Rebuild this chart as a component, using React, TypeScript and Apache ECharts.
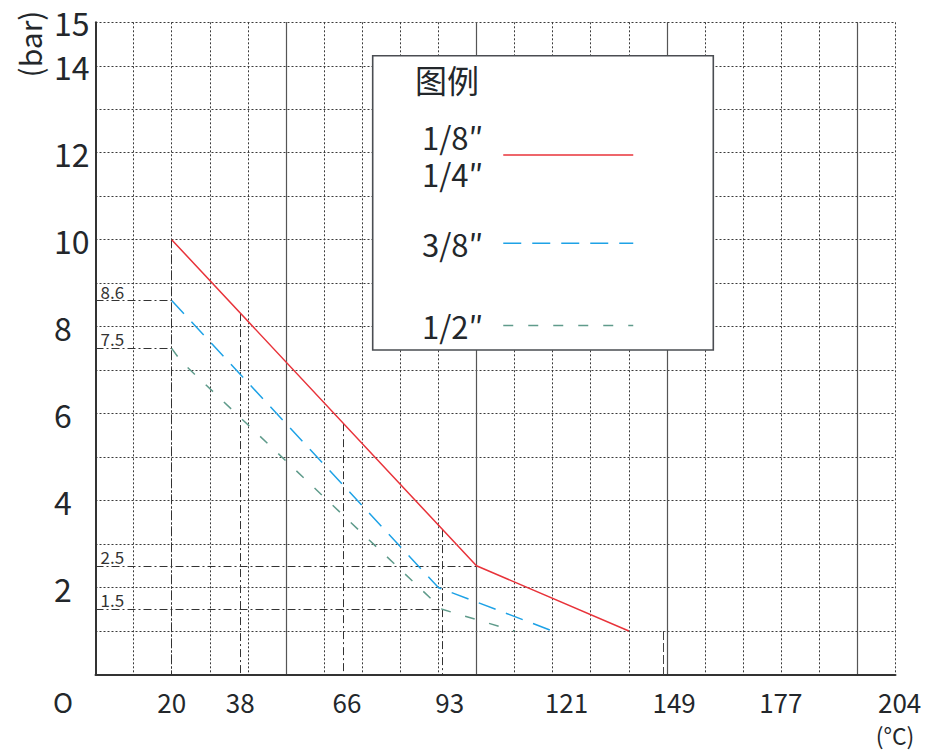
import React, { useEffect, useRef } from 'react';
import * as echarts from 'echarts';

// ---- data ----
const xTickLabels = [20, 38, 66, 93, 121, 149, 177, 204]; // °C
const yTickLabels = [2, 4, 6, 8, 10, 12, 14, 15]; // bar
const seriesNames = ['1/8″\n1/4″', '3/8″', '1/2″'];
const redValues = [[20, 10], [100, 2.5], [140, 1]];
const blueValues = [[20, 8.6], [90, 2], [120, 1]];
const greenValues = [[20, 7.5], [22.5, 7.2], [91, 1.5], [110, 1]];
const guideTemps = [20, 38, 65, 91]; // vertical guides dropped from the 1/8"-1/4" curve
const limitTemp = 149;
const limitPressure = 1;

const FONT = '"Noto Sans CJK SC", "Noto Sans", sans-serif';
const TEXT = '#23272b';
const RED = '#e8333a';
const BLUE = '#1ea2e6';
const GREEN = '#5f9b8b';
const DASH_DOT = [8, 3, 2, 3];

function interp(series: number[][], t: number): number {
  for (let i = 0; i < series.length - 1; i++) {
    const [x0, y0] = series[i];
    const [x1, y1] = series[i + 1];
    if (t >= x0 && t <= x1) return y0 + ((y1 - y0) * (t - x0)) / (x1 - x0);
  }
  return series[0][1];
}

// label nudges (the reference places the right-hand labels slightly right of their values)
const xLabelNudge: Record<number, number> = { 121: 10, 149: 11, 177: 11, 204: 27 };

export default function App() {
  const ref = useRef<HTMLDivElement>(null);
  useEffect(() => {
    document.body.style.margin = '0';
    const chart = echarts.init(ref.current!, null, { renderer: 'svg' });

    const rich: Record<string, any> = {};
    xTickLabels.forEach((v) => {
      rich['n' + v] = {
        fontSize: 26,
        fontFamily: FONT,
        color: TEXT,
        padding: [0, 0, 0, 2 * (xLabelNudge[v] || 0)],
      };
    });

    const levelLines = [
      { level: blueValues[0][1], end: blueValues[0][0] },
      { level: greenValues[0][1], end: greenValues[0][0] },
      { level: redValues[1][1], end: redValues[1][0] },
      { level: greenValues[2][1], end: greenValues[2][0] },
    ];

    const option: any = {
      animation: false,
      backgroundColor: '#fff',
      textStyle: { fontFamily: FONT },
      grid: { left: 95.5, right: 31.5, top: 22.3, bottom: 76.5, containLabel: false },
      xAxis: [
        {
          type: 'value',
          min: 0,
          max: 210,
          interval: 10,
          axisLine: { show: true, onZero: false, lineStyle: { color: '#333', width: 2 } },
          axisTick: { show: false },
          axisLabel: {
            customValues: xTickLabels,
            margin: 14,
            fontSize: 26,
            color: TEXT,
            fontFamily: FONT,
            formatter: (v: number) => `{n${v}|${v}}`,
            rich,
          },
          splitLine: {
            show: true,
            showMinLine: false,
            showMaxLine: true,
            lineStyle: { color: '#3a3a3a', type: [2, 2], width: 1 },
          },
        },
        {
          type: 'value',
          min: 0,
          max: 210,
          interval: 50,
          position: 'top',
          axisLine: { show: false },
          axisTick: { show: false },
          axisLabel: { show: false },
          splitLine: {
            show: true,
            showMinLine: false,
            showMaxLine: false,
            lineStyle: { color: '#555', type: 'solid', width: 1.2 },
          },
        },
      ],
      yAxis: {
        type: 'value',
        min: 0,
        max: 15,
        interval: 1,
        axisLine: { show: true, onZero: false, lineStyle: { color: '#333', width: 2 } },
        axisTick: { show: false },
        axisLabel: {
          customValues: yTickLabels,
          align: 'left',
          margin: 41.5,
          fontSize: 32,
          lineHeight: 32,
          color: TEXT,
          fontFamily: FONT,
        },
        splitLine: {
          show: true,
          showMinLine: false,
          showMaxLine: true,
          lineStyle: { color: '#3a3a3a', type: [2, 2], width: 1 },
        },
      },
      legend: seriesNames.map((name, i) => ({
        data: [name],
        right: 293,
        top: [118, 224.8, 307][i],
        orient: 'vertical',
        align: 'right',
        itemWidth: 130,
        itemHeight: [74, 37, 37][i],
        padding: 0,
        selectedMode: false,
        z: 20,
        textStyle: {
          fontSize: 31,
          lineHeight: 37,
          color: TEXT,
          fontFamily: FONT,
          padding: [0, 15, 0, 0],
        },
        itemStyle: { opacity: 0, borderWidth: 0 },
        lineStyle: { width: 1.5 },
      })),
      series: [
        {
          name: seriesNames[0],
          type: 'line',
          data: redValues,
          symbol: 'none',
          z: 5,
          lineStyle: { color: RED, width: 1.5 },
          itemStyle: { color: RED },
          markLine: {
            silent: true,
            symbol: ['none', 'none'],
            label: { show: false },
            lineStyle: { color: '#333', type: DASH_DOT, width: 1 },
            data: [
              ...guideTemps.map((t) => [
                { coord: [t, interp(redValues, t)] },
                { coord: [t, 0] },
              ]),
              [
                { coord: [limitTemp, limitPressure], lineStyle: { type: [9, 3], color: '#444' } },
                { coord: [limitTemp, 0] },
              ],
            ],
          },
        },
        {
          name: seriesNames[1],
          type: 'line',
          data: blueValues,
          symbol: 'none',
          z: 5,
          lineStyle: { color: BLUE, width: 1.5, type: [18, 11] },
          itemStyle: { color: BLUE },
          markLine: {
            silent: true,
            symbol: ['none', 'none'],
            lineStyle: { color: '#333', type: DASH_DOT, width: 1 },
            label: {
              show: true,
              position: 'insideStartTop',
              formatter: '{b}',
              fontSize: 17,
              color: '#333',
              fontFamily: FONT,
              distance: [5, 1],
            },
            data: levelLines.map((l) => [
              { name: String(l.level), coord: [0, l.level] },
              { coord: [l.end, l.level] },
            ]),
          },
        },
        {
          name: seriesNames[2],
          type: 'line',
          data: greenValues,
          symbol: 'none',
          z: 5,
          lineStyle: { color: GREEN, width: 1.5, type: [10, 15] },
          itemStyle: { color: GREEN },
        },
      ],
      graphic: [
        {
          type: 'rect',
          z: 10,
          shape: { x: 372.7, y: 55.7, width: 340.6, height: 294.3 },
          style: { fill: '#fff', stroke: '#4a4d52', lineWidth: 1.6 },
        },
        {
          type: 'text',
          z: 11,
          x: 415,
          y: 79,
          style: { text: '图例', fontSize: 32, fontFamily: FONT, fill: TEXT, align: 'left', verticalAlign: 'middle' },
        },
        {
          type: 'text',
          z: 11,
          x: 29,
          y: 44,
          rotation: Math.PI / 2,
          style: { text: '(bar)', fontSize: 30, fontFamily: FONT, fill: TEXT, align: 'center', verticalAlign: 'middle' },
        },
        {
          type: 'text',
          z: 11,
          x: 53,
          y: 701,
          style: { text: 'O', fontSize: 27, fontFamily: FONT, fill: TEXT, align: 'left', verticalAlign: 'middle' },
        },
        {
          type: 'text',
          z: 11,
          x: 895,
          y: 735,
          style: { text: '(°C)', fontSize: 23, fontFamily: FONT, fill: TEXT, align: 'center', verticalAlign: 'middle' },
        },
      ],
    };
    chart.setOption(option);
    return () => chart.dispose();
  }, []);
  return <div ref={ref} style={{ position: 'absolute', left: 0, top: 0, width: 927, height: 751 }} />;
}
